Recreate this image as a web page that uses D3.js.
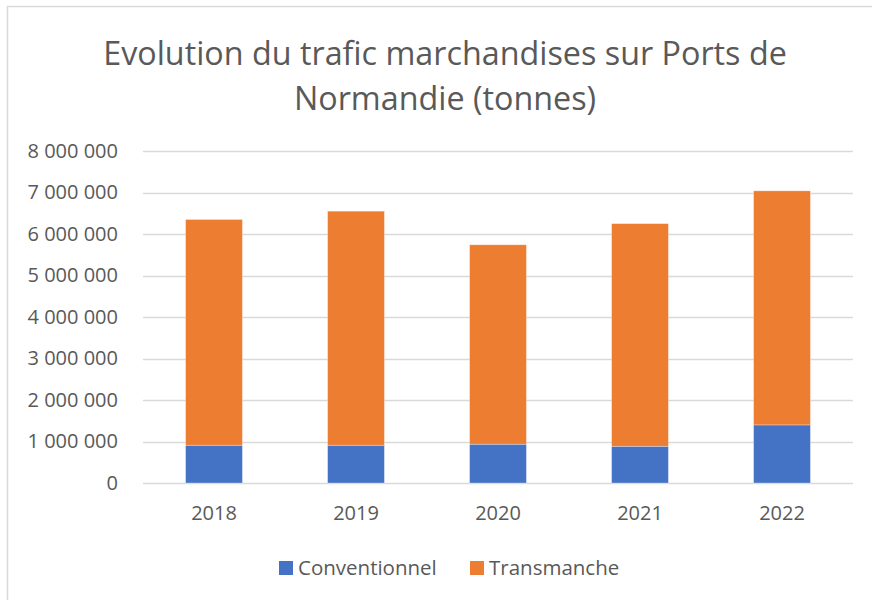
<!DOCTYPE html>
<html>
<head>
<meta charset="utf-8">
<script src="https://cdn.jsdelivr.net/npm/d3@7"></script>
<style>
  body { margin: 0; background: #fff; }
  text { font-family: "Open Sans", sans-serif; fill: #595959; }
</style>
</head>
<body>
<div id="chart-area"></div>
<script>
// Data (tonnes).
var years = ["2018", "2019", "2020", "2021", "2022"];
var conventionnel = [910000, 910000, 935000, 885000, 1400000];
var transmanche = [5440000, 5640000, 4805000, 5365000, 5640000];
var seriesNames = ["Conventionnel", "Transmanche"];
var seriesColors = ["#4472C4", "#ED7D31"];
var yTicks = [0, 1000000, 2000000, 3000000, 4000000, 5000000, 6000000, 7000000, 8000000];
var titleLines = ["Evolution du trafic marchandises sur Ports de", "Normandie (tonnes)"];

var W = 872, H = 600;
var plot = {left: 143, right: 853, top: 151, bottom: 483};

var svg = d3.select("#chart-area")
    .append("svg")
    .attr("width", W)
    .attr("height", H);

// Chart frame (extends past the window on right and bottom).
svg.append("rect")
    .attr("x", 7.5)
    .attr("y", 6.5)
    .attr("width", W + 20)
    .attr("height", H + 20)
    .attr("fill", "none")
    .attr("stroke", "#d9d9d9")
    .attr("stroke-width", 1.5);

// Title.
svg.append("g").selectAll("text")
    .data(titleLines)
    .enter()
    .append("text")
    .attr("x", 445)
    .attr("y", (d, i) => 65 + i * 45)
    .attr("text-anchor", "middle")
    .style("font-size", "32.3px")
    .text(d => d);

// Scales.
var xScale = d3.scaleBand()
    .domain(years)
    .range([plot.left, plot.right])
    .paddingInner(0.6)
    .paddingOuter(0.3);

var yScale = d3.scaleLinear()
    .domain([0, 8000000])
    .range([plot.bottom, plot.top]);

var fmt = d3.formatLocale({decimal: ",", thousands: "\u00a0", grouping: [3], currency: ["", " €"]}).format(",d");

// Gridlines.
svg.append("g")
    .selectAll("line")
    .data(yTicks)
    .enter()
    .append("line")
    .attr("x1", plot.left)
    .attr("x2", plot.right)
    .attr("y1", d => Math.round(yScale(d)) + 0.5)
    .attr("y2", d => Math.round(yScale(d)) + 0.5)
    .attr("stroke", "#d9d9d9")
    .attr("stroke-width", 1.5);

// Y axis labels.
var yAxis = svg.append("g")
    .attr("transform", "translate(" + plot.left + ",0)")
    .call(d3.axisLeft(yScale).tickValues(yTicks).tickFormat(fmt).tickSize(0).tickPadding(25));
yAxis.select(".domain").remove();
yAxis.selectAll("text").style("font-size", "20px").attr("fill", "#595959");

// Stacked data.
var table = years.map((y, i) => ({year: y, Conventionnel: conventionnel[i], Transmanche: transmanche[i]}));
var stacked = d3.stack().keys(seriesNames)(table);

svg.append("g")
    .selectAll("g")
    .data(stacked)
    .enter()
    .append("g")
    .attr("fill", (d, i) => seriesColors[i])
    .selectAll("rect")
    .data(d => d)
    .enter()
    .append("rect")
    .attr("x", d => xScale(d.data.year))
    .attr("width", xScale.bandwidth())
    .attr("y", d => yScale(d[1]))
    .attr("height", d => yScale(d[0]) - yScale(d[1]))
    .attr("stroke", "#fff")
    .attr("stroke-opacity", 0.4)
    .attr("stroke-width", 0.75);

// X axis labels.
var xAxis = svg.append("g")
    .attr("transform", "translate(0," + plot.bottom + ")")
    .call(d3.axisBottom(xScale).tickSize(0).tickPadding(23));
xAxis.select(".domain").remove();
xAxis.selectAll("text").style("font-size", "20px").attr("fill", "#595959");

// Legend.
var legendItems = [{x: 279}, {x: 470}];
var legend = svg.append("g")
    .selectAll("g")
    .data(seriesNames)
    .enter()
    .append("g")
    .attr("transform", (d, i) => "translate(" + legendItems[i].x + ",561)");

legend.append("rect")
    .attr("width", 14)
    .attr("height", 14)
    .attr("fill", (d, i) => seriesColors[i]);

legend.append("text")
    .attr("x", 19)
    .attr("y", 14)
    .style("font-size", "20.5px")
    .text(d => d);
</script>
</body>
</html>
